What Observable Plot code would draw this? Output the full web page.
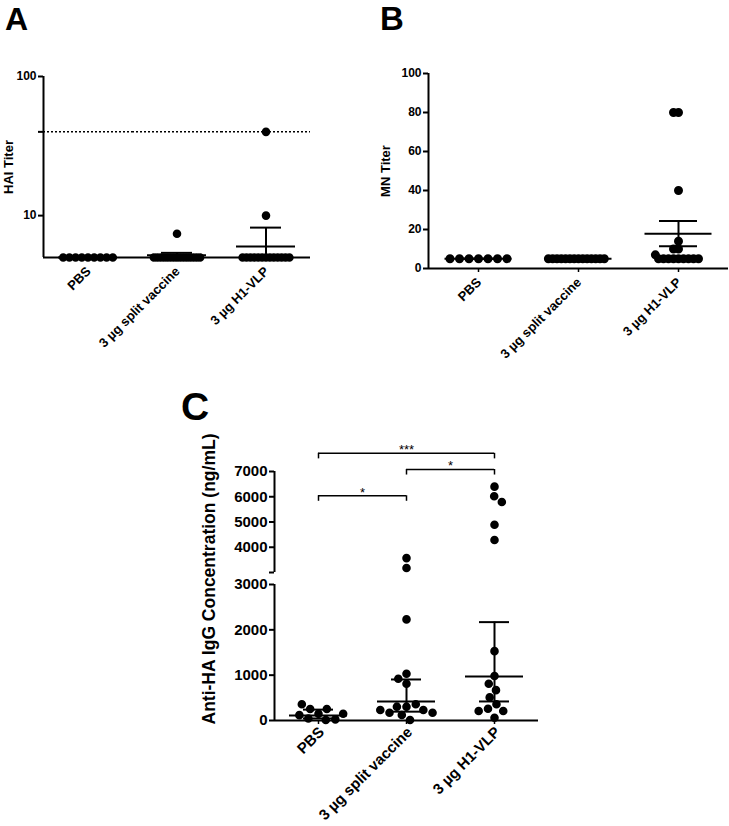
<!DOCTYPE html>
<html><head><meta charset="utf-8">
<script src="https://cdn.jsdelivr.net/npm/d3@7"></script>
<script src="https://cdn.jsdelivr.net/npm/@observablehq/plot@0.6"></script>
<style>
body{margin:0;background:#fff;}
#wrap{position:relative;width:729px;height:826px;overflow:hidden;font-family:"Liberation Sans",Arial,sans-serif;color:#000;background:#fff;}
.panel{position:absolute;}
.panel svg{overflow:visible;}
.letter{position:absolute;font-family:"Liberation Sans",Arial,sans-serif;font-weight:700;line-height:1;}
.ylab{position:absolute;font-weight:700;white-space:nowrap;line-height:1;transform:translate(-50%,-50%) rotate(-90deg);}
</style></head><body><div id="wrap"></div>
<script>
const groups = ["PBS", "3 µg split vaccine", "3 µg H1-VLP"];

// Panel A – HAI titer (log axis)
const haiPBS   = [5, 5, 5, 5, 5, 5, 5, 5, 5];
const haiSplit = [5, 5, 5, 5, 5, 5, 5, 5, 5, 5, 5, 5, 5, 5, 5, 7.4];
const haiVLP   = [5, 5, 5, 5, 5, 5, 5, 5, 5, 5, 5, 5, 5, 10, 40];
const haiCenter = [5, 5.2, 6.0];
const haiLow    = [5, 5, 5];
const haiHigh   = [5, 5.4, 8.2];
const haiTicks  = [10, 40, 100];
const haiThreshold = [40];

// Panel B – MN titer
const mnPBS   = [5, 5, 5, 5, 5, 5, 5];
const mnSplit = [5, 5, 5, 5, 5, 5, 5, 5, 5, 5, 5, 5, 5, 5];
const mnVLP   = [5, 5, 5, 5, 5, 5, 5, 5, 5, 7, 10, 10, 14, 40, 80, 80];
const mnTicks = [0, 20, 40, 60, 80, 100];

// Panel C – Anti-HA IgG (ng/mL), broken axis
const igPBS   = [148, 253, 253, 358, 45, 10, 25, 118, 148];
const igSplit = [3180, 3570, 2230, 1030, 920, 810, 305, 305, 360, 230, 170, 120, 170, 230, 10];
const igVLP   = [6400, 6020, 5790, 4890, 4290, 1530, 980, 810, 670, 510, 360, 260, 210, 210, 60];
const igCenter = [110, 420, 970];
const igLow    = [45, 195, 420];
const igHigh   = [240, 905, 2170];
const igTicksLow  = [0, 1000, 2000, 3000];
const igTicksHigh = [3000, 4000, 5000, 6000, 7000];
const compFrom  = ["PBS", "3 µg split vaccine", "PBS"];
const compTo    = ["3 µg split vaccine", "3 µg H1-VLP", "3 µg H1-VLP"];
const compLevel = [6040, 7080, 7720];
const compLabel = ["*", "*", "***"];

const FONT = '"Liberation Sans", Arial, sans-serif';
const wrap = document.getElementById("wrap");

function rowsFrom(lists) { return groups.flatMap((g, i) => lists[i].map(v => ({g, v}))); }
function statRows(c, lo, hi) { return groups.map((g, i) => ({g, c: c[i], lo: lo[i], hi: hi[i]})); }

function panel(o) {
  const marks = [];
  const yMin = o.yDomain[0];
  if (o.before) marks.push(...o.before);
  if (o.xLine) marks.push(Plot.ruleY([yMin], {strokeWidth: 2}));
  marks.push(Plot.ruleX([groups[0]], {fx: d => d, x: () => -1, y1: () => o.yLine[0], y2: () => o.yLine[1], strokeWidth: 2}));
  marks.push(Plot.axisY(o.ticks, {anchor: "left", tickSize: 5, tickPadding: 2, tickFormat: o.tickFormat || (d => String(d)),
    fontSize: o.tickFont, fontWeight: "bold", strokeWidth: 2, label: null}));
  if (o.fxAxis) {
    marks.push(Plot.axisFx({anchor: "bottom", tickSize: 4, tickFormat: () => "", strokeWidth: 1.5, label: null}));
    marks.push(Plot.text(groups, {fx: d => d, x: () => 0, y: () => yMin, text: d => d, rotate: -45, textAnchor: "end",
      lineAnchor: "top", dx: o.lab[0], dy: o.lab[1], fontSize: o.xFont, fontWeight: "bold", fill: "black"}));
  }
  groups.forEach((g, i) => {
    const data = o.rows.filter(d => d.g === g);
    if (data.length) marks.push(Plot.dot(data, Plot.dodgeX({anchor: "middle", padding: o.pads[i], r: o.rd, fx: "g", y: "v",
      fill: "black", stroke: "black", strokeWidth: o.sw})));
  });
  if (o.stats) {
    const st = o.stats;
    marks.push(Plot.ruleY(st, {fx: "g", y: "c", insetLeft: o.cInset, insetRight: o.cInset, strokeWidth: 2}));
    marks.push(Plot.ruleY(st, {fx: "g", y: "hi", insetLeft: o.kInset, insetRight: o.kInset, strokeWidth: 2}));
    marks.push(Plot.ruleY(st, {fx: "g", y: "lo", insetLeft: o.kInset, insetRight: o.kInset, strokeWidth: 2}));
    marks.push(Plot.ruleX(st, {fx: "g", x: () => 0, y1: "lo", y2: "hi", strokeWidth: 2}));
  }
  if (o.after) marks.push(...o.after);
  const svg = Plot.plot({
    width: o.width, height: o.height,
    marginLeft: o.ml, marginRight: o.mr, marginTop: o.mt, marginBottom: o.mb,
    x: {domain: [-1, 1], axis: null},
    fx: {domain: groups, padding: 0, axis: null},
    y: {type: o.yType || "linear", domain: o.yDomain, axis: null},
    style: {fontFamily: FONT, fontWeight: "bold", color: "black", background: "transparent", overflow: "visible"},
    marks
  });
  const div = document.createElement("div");
  div.className = "panel";
  div.style.left = o.left + "px";
  div.style.top = o.top + "px";
  div.appendChild(svg);
  wrap.appendChild(div);
}

function letter(t, x, y, size) {
  const d = document.createElement("div");
  d.className = "letter"; d.textContent = t;
  d.style.left = x + "px"; d.style.top = y + "px"; d.style.fontSize = size + "px";
  wrap.appendChild(d);
}
function ylabel(t, cx, cy, size) {
  const d = document.createElement("div");
  d.className = "ylab"; d.textContent = t;
  d.style.left = cx + "px"; d.style.top = cy + "px"; d.style.fontSize = size + "px";
  wrap.appendChild(d);
}

// ---- Panel A
panel({
  left: 0, top: 0, width: 360, height: 380, ml: 42, mr: 49, mt: 76, mb: 123,
  yType: "log", yDomain: [5, 100], yLine: [5, 100], ticks: haiTicks, tickFont: 12,
  fxAxis: true, xFont: 13, lab: [-3, 8], xLine: true,
  rows: rowsFrom([haiPBS, haiSplit, haiVLP]), pads: [1.8, -1.1, -0.5], rd: 2.2, sw: 4.2,
  stats: statRows(haiCenter, haiLow, haiHigh), cInset: 15, kInset: 29,
  before: [Plot.ruleY(haiThreshold, {strokeDasharray: "2,2", strokeWidth: 1.5})]
});

// ---- Panel B
const mnLists = [mnPBS, mnSplit, mnVLP];
const mnStats = groups.map((g, i) => {
  const v = mnLists[i], m = d3.mean(v), se = (d3.deviation(v) || 0) / Math.sqrt(v.length);
  return {g, c: m, lo: m - se, hi: m + se};
});
panel({
  left: 360, top: 0, width: 369, height: 380, ml: 68, mr: 1, mt: 73, mb: 112,
  yDomain: [0, 100], yLine: [0, 100], ticks: mnTicks, tickFont: 12,
  fxAxis: true, xFont: 13, lab: [-3, 8], xLine: true,
  rows: rowsFrom(mnLists), pads: [5.1, -0.1, 0.6], rd: 2.2, sw: 4.6,
  stats: mnStats, cInset: 16.5, kInset: 31
});

// ---- Panel C
const igRows = rowsFrom([igPBS, igSplit, igVLP]);
const comps = compFrom.map((f, i) => ({from: f, span: 2 * (groups.indexOf(compTo[i]) - groups.indexOf(f)), level: compLevel[i], label: compLabel[i]}));
const compEnds = comps.flatMap(d => [{...d, at: 0}, {...d, at: d.span}]);
panel({
  left: 0, top: 425, width: 729, height: 147, ml: 274, mr: 191, mt: 46, mb: 0,
  yDomain: [3000, 7000], yLine: [3000, 7000], ticks: igTicksHigh, tickFont: 15,
  tickFormat: d => d === 3000 ? "" : String(d), fxAxis: false, xLine: false,
  rows: igRows.filter(d => d.v > 3000), pads: [5.2, 5.2, 5.2], rd: 2.2, sw: 4.2,
  after: [
    Plot.ruleY(comps, {fx: "from", y: "level", x1: () => 0, x2: d => d.span, strokeWidth: 1.5}),
    Plot.ruleX(compEnds, {fx: "from", x: "at", y1: "level", y2: d => d.level - 220, strokeWidth: 1.5}),
    Plot.text(comps, {fx: "from", x: d => d.span / 2, y: "level", text: "label", lineAnchor: "bottom", dy: 1, fontSize: 13, fontWeight: "normal"})
  ]
});
panel({
  left: 0, top: 572, width: 729, height: 254, ml: 274, mr: 191, mt: 12, mb: 106,
  yDomain: [0, 3000], yLine: [0, 3000], ticks: igTicksLow, tickFont: 15,
  fxAxis: true, xFont: 15, lab: [-1, 5], xLine: true,
  rows: igRows.filter(d => d.v <= 3000), pads: [5.2, 5.2, 5.2], rd: 2.2, sw: 4.2,
  stats: statRows(igCenter, igLow, igHigh), cInset: 15, kInset: 29
});

ylabel("HAI Titer", 8, 167, 13);
ylabel("MN Titer", 385, 171, 13);
ylabel("Anti-HA IgG Concentration (ng/mL)", 210, 579, 17.5);

letter("A", 5, 3, 32);
letter("B", 380, 2, 33);
letter("C", 181, 387, 39);
</script></body></html>
